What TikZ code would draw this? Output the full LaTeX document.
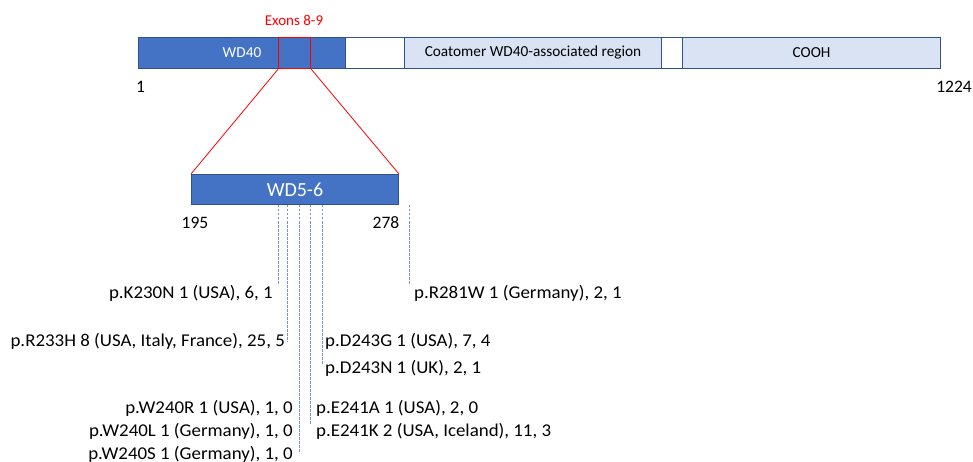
\documentclass[tikz,border=0pt]{standalone}
\usepackage{fontspec}
\setmainfont{Carlito}
\newfontfamily\labfont[FakeStretch=1.05]{Carlito}
\definecolor{dblue}{HTML}{4472C4}
\definecolor{bord}{HTML}{2F528F}
\definecolor{lblue}{HTML}{DAE3F3}
\definecolor{dashblue}{HTML}{6F95D8}
\definecolor{exred}{HTML}{FF0000}
\tikzset{
  seg/.style={draw=bord, line width=1pt, inner sep=0pt, anchor=north west, minimum height=31pt},
  segtxt/.style={font=\fontsize{15.3}{17}\selectfont},
  num/.style={font=\fontsize{17.5}{20}\selectfont, inner sep=0pt},
  lab/.style={font=\labfont\fontsize{18}{20}\selectfont, inner sep=0pt},
  tick/.style={draw=dashblue, line width=1pt, dash pattern=on 2.5pt off 1.5pt},
  zoomline/.style={draw=exred, line width=0.8pt}
}
\begin{document}
\begin{tikzpicture}[x=1pt,y=-1pt]
\useasboundingbox (0,0) rectangle (973,462);
% top bar
\node[seg, fill=dblue, minimum width=207pt, text=white, segtxt] (wd40) at (138,37) {WD40};
\node[seg, fill=white, minimum width=59pt] (w1) at (345,37) {};
\node[seg, fill=lblue, minimum width=257pt, segtxt] (coat) at (404,37) {Coatomer WD40-associated region};
\node[seg, fill=white, minimum width=21pt] (w2) at (661,37) {};
\node[seg, fill=lblue, minimum width=258pt, segtxt] (cooh) at (682,37) {COOH};
\node[draw=exred, line width=1.3pt, inner sep=0pt, anchor=north west, minimum width=32pt, minimum height=31pt] (exon) at (278,37) {};
\node[text=exred, font=\fontsize{15}{17}\selectfont, inner sep=0pt] (exlab) at (294,20) {Exons 8-9};
\node[num, anchor=west] (n1) at (136,87) {1};
\node[num, anchor=east] (n1224) at (972,87) {1224};
% zoomed domain
\node[seg, fill=dblue, minimum width=207pt, minimum height=30pt, text=white, font=\fontsize{20}{22}\selectfont] (wd56) at (191,174) {WD5-6};
\draw[zoomline] (exon.south west) -- (wd56.north west);
\draw[zoomline] (exon.south east) -- (wd56.north east);
\node[num] (n195) at (195,223) {195};
\node[num] (n278) at (386,223) {278};
% mutation labels
\node[lab, anchor=base east] (k230) at (273,298) {p.K230N 1 (USA), 6, 1};
\node[lab, anchor=base west] (r281) at (414,298) {p.R281W 1 (Germany), 2, 1};
\node[lab, anchor=base east] (r233) at (285,346) {p.R233H 8 (USA, Italy, France), 25, 5};
\node[lab, anchor=base west] (d243g) at (325,346) {p.D243G 1 (USA), 7, 4};
\node[lab, anchor=base west] (d243n) at (325,373) {p.D243N 1 (UK), 2, 1};
\node[lab, anchor=base east] (w240r) at (293,413) {p.W240R 1 (USA), 1, 0};
\node[lab, anchor=base east] (w240l) at (293,436) {p.W240L 1 (Germany), 1, 0};
\node[lab, anchor=base east] (w240s) at (293,459) {p.W240S 1 (Germany), 1, 0};
\node[lab, anchor=base west] (e241a) at (316,413) {p.E241A 1 (USA), 2, 0};
\node[lab, anchor=base west] (e241k) at (316,436) {p.E241K 2 (USA, Iceland), 11, 3};
% ticks
\coordinate (t1) at (278,205); \coordinate (b1) at (278,285);
\coordinate (t2) at (287,205); \coordinate (b2) at (287,342);
\coordinate (t3) at (299,205); \coordinate (b3) at (299,452);
\coordinate (t4) at (310,205); \coordinate (b4) at (310,425);
\coordinate (t5) at (322,205); \coordinate (b5) at (322,365);
\coordinate (t6) at (409,205); \coordinate (b6) at (409,285);
\foreach \i in {1,...,6} { \draw[tick] (t\i) -- (b\i); }
\end{tikzpicture}
\end{document}
